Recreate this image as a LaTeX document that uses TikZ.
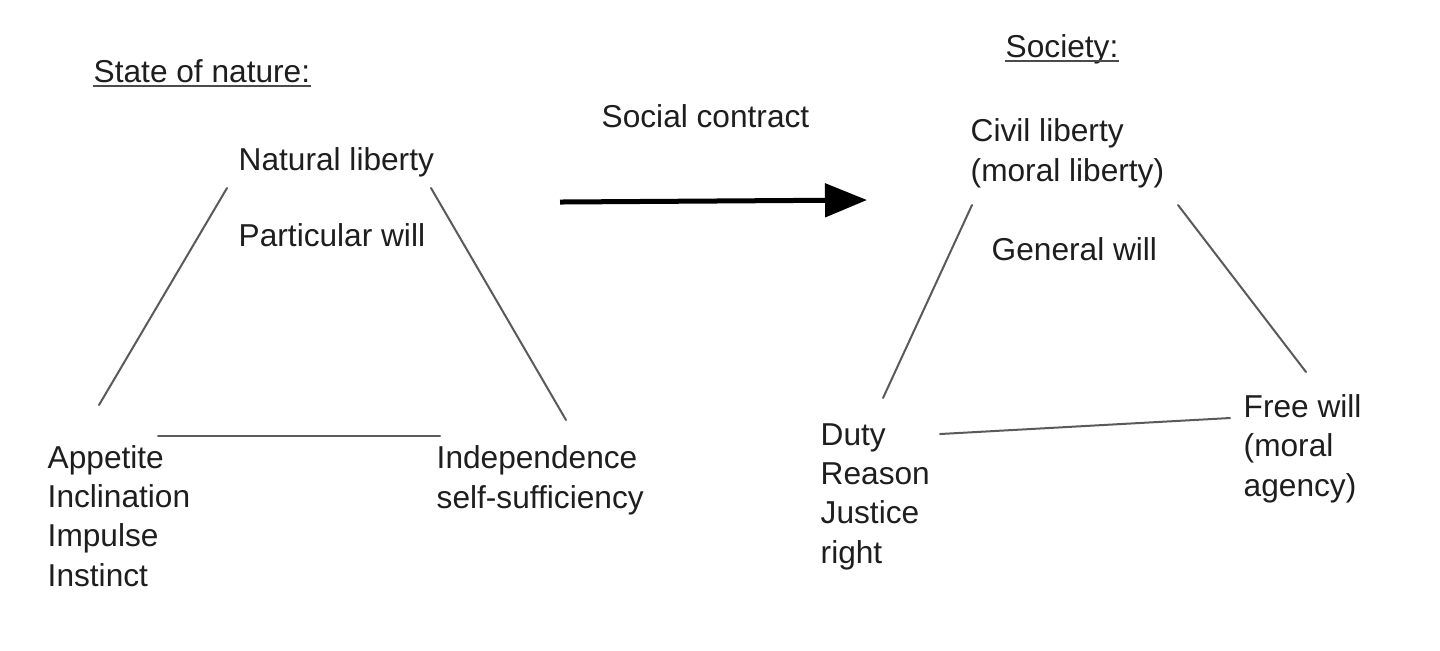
\documentclass[tikz,border=0pt]{standalone}
\usepackage{fontspec}
\setmainfont{Liberation Sans}
\usetikzlibrary{arrows.meta}
\definecolor{lncol}{RGB}{90,90,90}
\definecolor{txtcol}{RGB}{30,30,30}
\begin{document}
\begin{tikzpicture}[x=0.01cm,y=-0.01cm,
  txt/.style={anchor=base west, inner sep=0pt, align=left,
    font=\fontsize{9pt}{11.1pt}\selectfont, text=txtcol},
  ln/.style={draw=lncol, line width=0.02cm, line cap=round},
  underl/.style={draw=txtcol!80, line width=0.02cm},
  bigarrow/.style={draw=black, line width=0.05cm,
    -{Triangle[length=0.42cm, width=0.33cm]}}]
\useasboundingbox (0,0) rectangle (1440,650);

% headers
\node[txt] (hdrL) at (93,82) {State of nature:};
\node[txt] (hdrR) at (1005,57) {Society:};
\draw[underl] ([yshift=-1.2pt]hdrL.base west) -- ([yshift=-1.2pt]hdrL.base east);
\draw[underl] ([yshift=-1.2pt]hdrR.base west) -- ([yshift=-1.2pt]hdrR.base east);

% arrow
\node[txt] (sc) at (601,127) {Social contract};
\coordinate (arrA) at (560,202);
\coordinate (arrB) at (867,200);
\draw[bigarrow] (arrA) -- (arrB);

% left triangle (multi-line nodes: base = last line)
\node[txt] (natlib) at (238,170) {Natural liberty};
\node[txt] (partw) at (238,246) {Particular will};
\node[txt] (appet) at (47,586) {Appetite\\Inclination\\Impulse\\Instinct};
\node[txt] (indep) at (436,508) {Independence\\self-sufficiency};
\coordinate (l1a) at (227,188);
\coordinate (l1b) at (99,405);
\coordinate (l2a) at (431,188);
\coordinate (l2b) at (566,420);
\coordinate (l3a) at (158,436);
\coordinate (l3b) at (440,436);
\draw[ln] (l1a) -- (l1b);
\draw[ln] (l2a) -- (l2b);
\draw[ln] (l3a) -- (l3b);

% right triangle
\node[txt] (civlib) at (970,181) {Civil liberty\\(moral liberty)};
\node[txt] (genw) at (991,260) {General will};
\node[txt] (duty) at (820,563) {Duty\\Reason\\Justice\\right};
\node[txt] (freew) at (1243,496) {Free will\\(moral\\agency)};
\coordinate (r1a) at (972,205);
\coordinate (r1b) at (883,398);
\coordinate (r2a) at (1178,205);
\coordinate (r2b) at (1306,372);
\coordinate (r3a) at (940,434);
\coordinate (r3b) at (1230,418);
\draw[ln] (r1a) -- (r1b);
\draw[ln] (r2a) -- (r2b);
\draw[ln] (r3a) -- (r3b);
\end{tikzpicture}
\end{document}
